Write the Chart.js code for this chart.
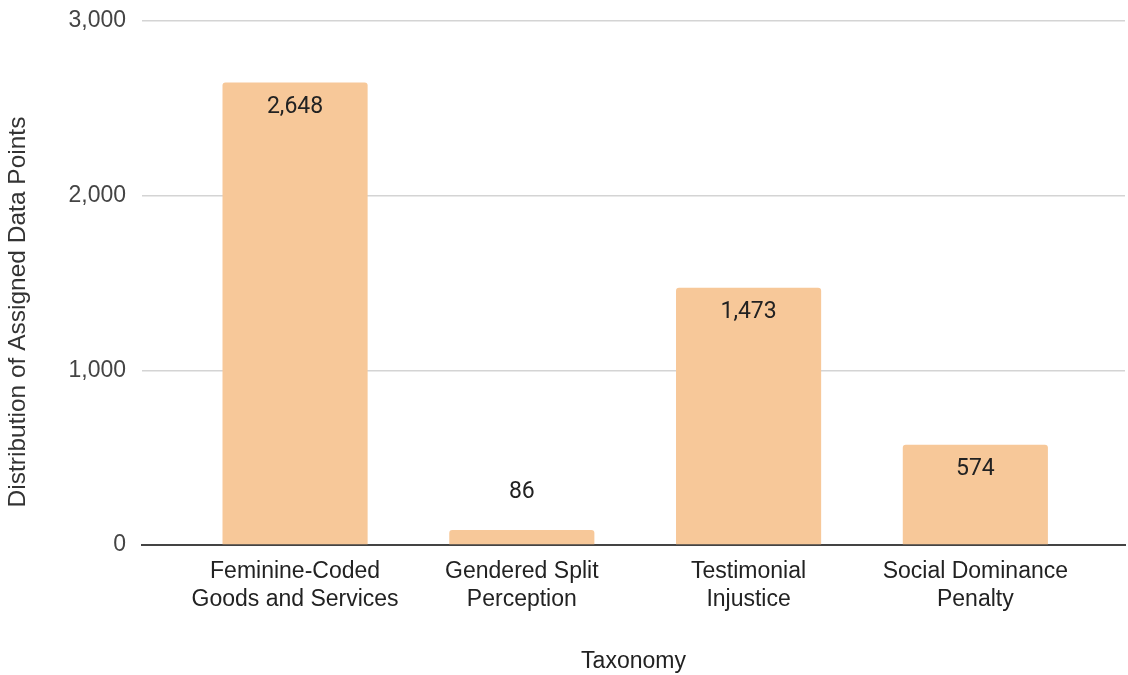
<!DOCTYPE html>
<html>
<head>
<meta charset="utf-8">
<script src="https://cdn.jsdelivr.net/npm/chart.js@4.4.1/dist/chart.umd.min.js"></script>
<style>
  html, body { margin: 0; padding: 0; background: #fff; }
  .report__chart { width: 1128px; height: 675px; }
</style>
</head>
<body>
<div class="report__chart"><canvas id="chart"></canvas></div>
<script>
const categories = [
    ['Feminine-Coded', 'Goods and Services'],
    ['Gendered Split', 'Perception'],
    ['Testimonial', 'Injustice'],
    ['Social Dominance', 'Penalty']
];
const assignedPoints = [2648, 86, 1473, 574];
const yTicks = [0, 1000, 2000, 3000];

const axisFont = '"Liberation Sans", Arial, sans-serif';
const barColor = '#f7c899';

// value labels: inside the bar top, or above it when the bar is too short
const valueLabels = {
    id: 'valueLabels',
    afterDatasetsDraw(chart) {
        const ctx = chart.ctx;
        const meta = chart.getDatasetMeta(0);
        ctx.save();
        ctx.font = '23px Roboto, sans-serif';
        ctx.fillStyle = '#222';
        ctx.textAlign = 'center';
        ctx.textBaseline = 'middle';
        meta.data.forEach((bar, i) => {
            const height = bar.base - bar.y;
            const y = height > 50 ? bar.y + 25 : bar.y - 38;
            ctx.fillText(assignedPoints[i].toLocaleString('en-US'), bar.x, y);
        });
        ctx.restore();
    }
};

// vertical axis title, placed a bit below the plot centre
const yTitle = {
    id: 'yTitle',
    afterDraw(chart) {
        const ctx = chart.ctx;
        const area = chart.chartArea;
        ctx.save();
        ctx.translate(18, (area.top + area.bottom) / 2 + 29);
        ctx.rotate(-Math.PI / 2);
        ctx.font = '24.5px ' + axisFont;
        ctx.fillStyle = '#333';
        ctx.textAlign = 'center';
        ctx.textBaseline = 'middle';
        ctx.fillText('Distribution of Assigned Data Points', 0, 0);
        ctx.restore();
    }
};

new Chart(document.getElementById('chart'), {
    type: 'bar',
    data: {
        datasets: [{
            label: 'Distribution of Assigned Data Points',
            data: assignedPoints.map((v, i) => ({ x: i, y: v })),
            backgroundColor: barColor,
            borderRadius: 3,
            borderSkipped: 'start',
            categoryPercentage: 0.8,
            barPercentage: 0.8
        }]
    },
    options: {
        responsive: true,
        maintainAspectRatio: false,
        animation: false,
        layout: { padding: { top: 21, right: 3, left: 0, bottom: 0 } },
        plugins: {
            legend: { display: false },
            tooltip: { enabled: false }
        },
        scales: {
            x: {
                type: 'linear',
                offset: false,
                min: -0.675,
                max: 3.66,
                afterBuildTicks: axis => {
                    axis.ticks = categories.map((_, i) => ({ value: i }));
                },
                afterFit: axis => {
                    axis.height = 130;
                    axis.paddingLeft = 0;
                    axis.paddingRight = 0;
                },
                grid: { display: false, drawTicks: false },
                border: { display: true, color: '#444', width: 2 },
                ticks: {
                    autoSkip: false,
                    maxRotation: 0,
                    padding: 12,
                    color: '#222',
                    font: { family: axisFont, size: 23, lineHeight: 1.25 },
                    callback: value => categories[value]
                },
                title: {
                    display: true,
                    text: 'Taxonomy',
                    color: '#222',
                    font: { family: axisFont, size: 23, lineHeight: 1.1 },
                    padding: { top: 0, bottom: 1 }
                }
            },
            y: {
                min: 0,
                max: 3000,
                afterBuildTicks: axis => {
                    axis.ticks = yTicks.map(v => ({ value: v }));
                },
                afterFit: axis => {
                    axis.width = 142;
                    axis.paddingTop = 0;
                    axis.paddingBottom = 0;
                },
                grid: {
                    drawTicks: false,
                    color: ctx => ctx.tick && ctx.tick.value === 0 ? 'rgba(0,0,0,0)' : '#d4d4d4',
                    lineWidth: 1.5
                },
                border: { display: false },
                ticks: {
                    padding: 16,
                    color: '#444',
                    font: { family: axisFont, size: 23 },
                    callback: value => value.toLocaleString('en-US')
                }
            }
        }
    },
    plugins: [valueLabels, yTitle]
});
</script>
</body>
</html>
